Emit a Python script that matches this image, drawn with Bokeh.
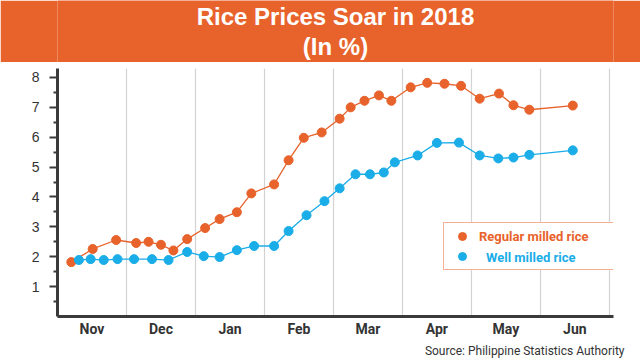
from bokeh.plotting import figure
from bokeh.models import (Range1d, FixedTicker, Legend, LegendItem, Label, Title)
from bokeh.layouts import column
from bokeh.embed import file_html
from bokeh.resources import INLINE

# ---- data (x = position in months, 0 = start of Nov 2017) ----
months = ["Nov", "Dec", "Jan", "Feb", "Mar", "Apr", "May", "Jun"]
month_centers = [0.5, 1.5, 2.5, 3.5, 4.5, 5.5, 6.5, 7.5]
month_bounds = [1, 2, 3, 4, 5, 6, 7, 8]

regular_x = [0.20, 0.51, 0.85, 1.14, 1.32, 1.50, 1.68, 1.88, 2.14, 2.35, 2.60, 2.81,
             3.14, 3.35, 3.57, 3.83, 4.09, 4.25, 4.45, 4.66, 4.84, 5.12, 5.36, 5.61,
             5.85, 6.12, 6.40, 6.61, 6.84, 7.47]
regular_y = [1.82, 2.26, 2.56, 2.46, 2.50, 2.40, 2.21, 2.59, 2.96, 3.26, 3.49, 4.12,
             4.42, 5.23, 5.98, 6.16, 6.62, 7.00, 7.22, 7.40, 7.22, 7.67, 7.82, 7.79,
             7.72, 7.29, 7.46, 7.07, 6.92, 7.06]

well_x = [0.31, 0.48, 0.67, 0.87, 1.11, 1.37, 1.61, 1.88, 2.12, 2.35, 2.60, 2.85,
          3.14, 3.35, 3.61, 3.87, 4.09, 4.32, 4.53, 4.73, 4.89, 5.22, 5.50, 5.82,
          6.12, 6.39, 6.61, 6.84, 7.47]
well_y = [1.89, 1.92, 1.89, 1.92, 1.92, 1.92, 1.89, 2.16, 2.02, 1.99, 2.22, 2.36,
          2.36, 2.86, 3.39, 3.86, 4.29, 4.76, 4.76, 4.82, 5.16, 5.39, 5.81, 5.82,
          5.39, 5.29, 5.32, 5.41, 5.56]

y_ticks = [1, 2, 3, 4, 5, 6, 7, 8]
y_minor = [0.5, 1.5, 2.5, 3.5, 4.5, 5.5, 6.5, 7.5]

title_line1 = "Rice Prices Soar in 2018"
title_line2 = "(In %)"
source_text = "Source: Philippine Statistics Authority"
series_names = ["Regular milled rice", "Well milled rice"]

ORANGE = "#E8622B"
BLUE = "#1AADE8"
AXIS = "#3a3a3a"
TEXT = "#333333"
COND = "Roboto"

# ---- banner ----
banner = figure(width=640, height=62, x_range=Range1d(0, 1), y_range=Range1d(0, 1),
                toolbar_location=None, output_backend="svg",
                x_axis_location=None, y_axis_location=None,
                min_border=0, outline_line_color=None,
                background_fill_color=ORANGE, border_fill_color=ORANGE)
banner.grid.visible = False
for txt, yy in [(title_line1, 0.735), (title_line2, 0.26)]:
    banner.add_layout(Label(x=0.5, y=yy, text=txt, text_align="center",
                            text_baseline="middle", text_color="white",
                            text_font="Liberation Sans", text_font_style="bold",
                            text_font_size="24px"))

# ---- main chart ----
p = figure(width=640, height=298, x_range=Range1d(0, 8.06), y_range=Range1d(0, 8.3),
           toolbar_location=None, output_backend="svg",
           min_border_left=57, min_border_right=27, min_border_top=6,
           min_border_bottom=42, outline_line_color=None)

p.xgrid.ticker = FixedTicker(ticks=month_bounds)
p.xgrid.grid_line_color = "#d2d2d2"
p.xgrid.grid_line_width = 1.2
p.ygrid.visible = False

xa = p.xaxis[0]
xa.ticker = FixedTicker(ticks=month_centers)
xa.major_label_overrides = {c: m for c, m in zip(month_centers, months)}
xa.major_tick_out = 0
xa.major_tick_in = 0
xa.minor_tick_out = 0
xa.minor_tick_in = 0
xa.axis_line_width = 3
xa.axis_line_color = AXIS
xa.major_label_standoff = 4
xa.major_label_text_font = COND
xa.major_label_text_font_style = "bold"
xa.major_label_text_font_size = "14px"
xa.major_label_text_color = TEXT

ya = p.yaxis[0]
ya.ticker = FixedTicker(ticks=y_ticks, minor_ticks=y_minor)
ya.major_tick_out = 8
ya.major_tick_in = 0
ya.minor_tick_out = 4
ya.minor_tick_in = 0
ya.major_tick_line_width = 2
ya.minor_tick_line_width = 2
ya.major_tick_line_color = AXIS
ya.minor_tick_line_color = AXIS
ya.axis_line_width = 3
ya.axis_line_color = AXIS
ya.major_label_standoff = 10
ya.major_label_text_font = "Liberation Sans"
ya.major_label_text_font_size = "14px"
ya.major_label_text_color = TEXT

p.line(regular_x, regular_y, line_color=ORANGE, line_width=1.3)
o_sc = p.scatter(regular_x, regular_y, size=9, fill_color=ORANGE, line_color=ORANGE)
p.line(well_x, well_y, line_color=BLUE, line_width=1.3)
b_sc = p.scatter(well_x, well_y, size=9, fill_color=BLUE, line_color=BLUE)
dummy = p.scatter(x=[], y=[], fill_alpha=0, line_alpha=0)

leg_a = Legend(items=[LegendItem(label=series_names[0], renderers=[o_sc]),
                      LegendItem(label=" ", renderers=[b_sc])],
               location=(386, 46), padding=3, spacing=0, margin=0,
               glyph_width=30, glyph_height=20, label_height=20, label_width=132,
               label_standoff=2,
               border_line_color=ORANGE, border_line_width=1.5,
               background_fill_color="white", background_fill_alpha=1,
               label_text_color=ORANGE, label_text_font=COND,
               label_text_font_style="bold", label_text_font_size="13px")
leg_b = Legend(items=[LegendItem(label=series_names[1], renderers=[dummy])],
               location=(409, 49), padding=0, spacing=0, margin=0,
               glyph_width=20, glyph_height=20, label_height=20, label_standoff=0,
               border_line_alpha=0, background_fill_alpha=0,
               label_text_color=BLUE, label_text_font=COND,
               label_text_font_style="bold", label_text_font_size="13px")
p.add_layout(leg_a)
p.add_layout(leg_b)

p.add_layout(Title(text=source_text, align="right", offset=-11, standoff=5,
                   text_font=COND, text_font_style="normal",
                   text_font_size="12px", text_color=TEXT), "below")

layout = column(banner, p, spacing=0)
open("out.html", "w").write(file_html(layout, INLINE))
